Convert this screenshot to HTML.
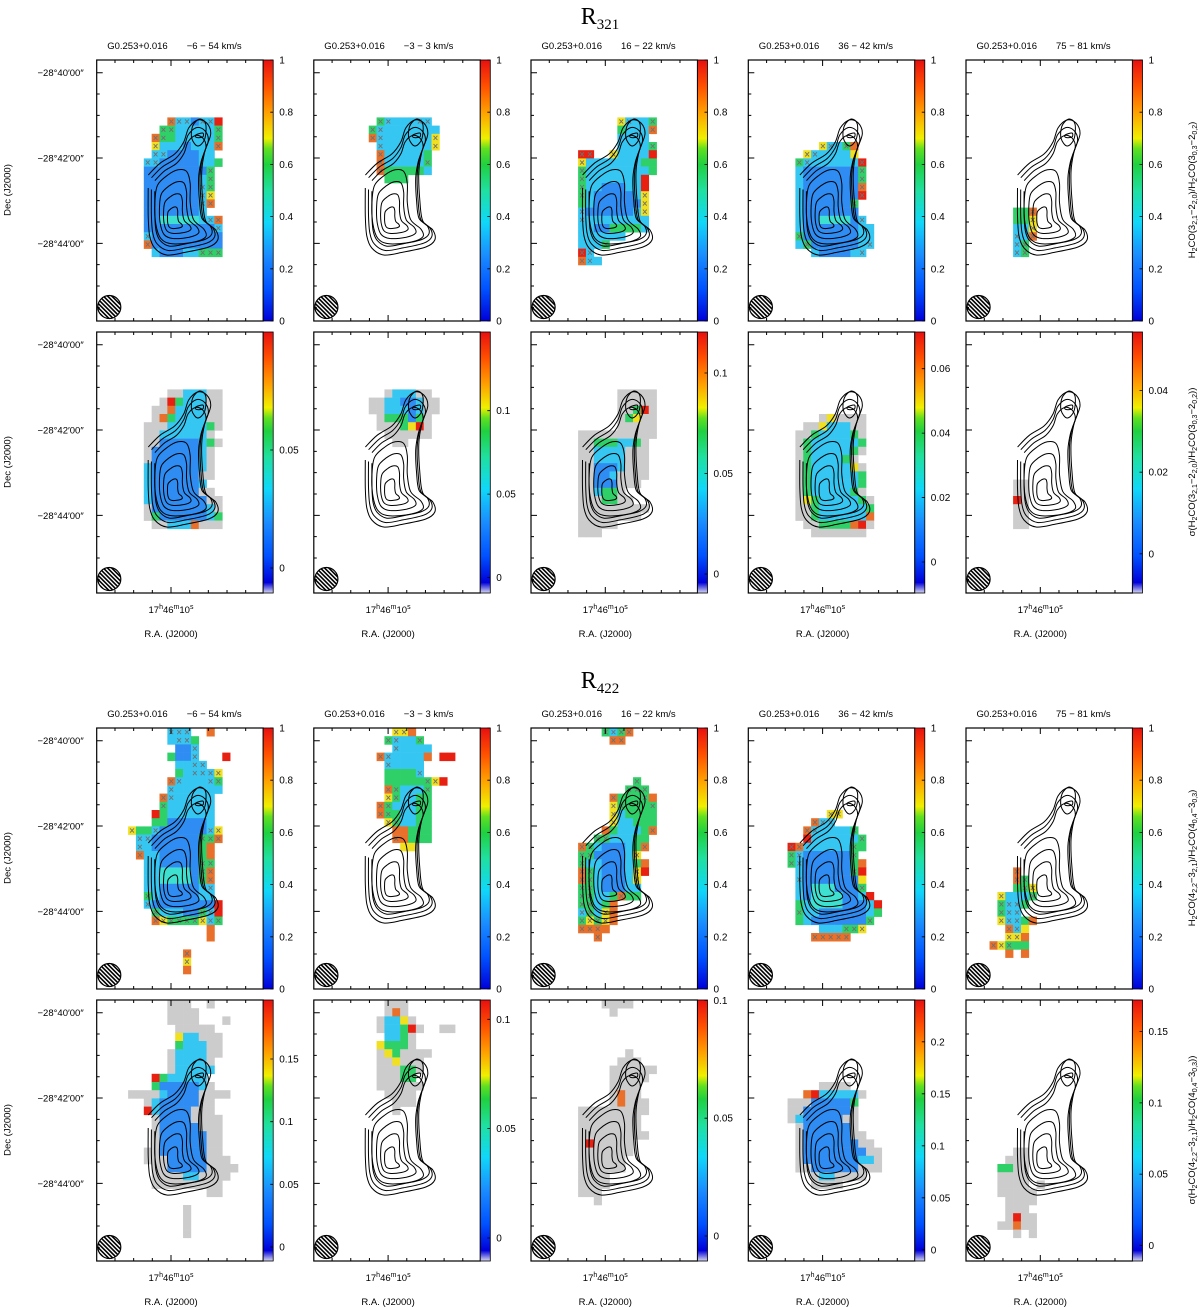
<!DOCTYPE html>
<html><head><meta charset="utf-8">
<style>
html,body{margin:0;padding:0;background:#fff;}
svg{display:block;font-family:"Liberation Sans",sans-serif;}
</style></head>
<body>
<svg id="fig" width="1200" height="1307" viewBox="0 0 1200 1307" xmlns="http://www.w3.org/2000/svg">
<defs>
<linearGradient id="jet" x1="0" y1="1" x2="0" y2="0">
<stop offset="0" stop-color="#0000d8"/><stop offset="0.12" stop-color="#0050ff"/>
<stop offset="0.25" stop-color="#1a8cff"/><stop offset="0.38" stop-color="#10d8f8"/>
<stop offset="0.5" stop-color="#20e0a0"/><stop offset="0.6" stop-color="#20d040"/>
<stop offset="0.66" stop-color="#60e020"/><stop offset="0.7" stop-color="#f0f000"/>
<stop offset="0.8" stop-color="#ffa000"/><stop offset="0.9" stop-color="#ff5000"/>
<stop offset="1" stop-color="#e81010"/></linearGradient>
<linearGradient id="jet2" x1="0" y1="1" x2="0" y2="0">
<stop offset="0" stop-color="#d8d8f0"/><stop offset="0.04" stop-color="#0000d8"/><stop offset="0.14" stop-color="#0050ff"/>
<stop offset="0.27" stop-color="#1a8cff"/><stop offset="0.4" stop-color="#10d8f8"/>
<stop offset="0.52" stop-color="#20e0a0"/><stop offset="0.62" stop-color="#20d040"/>
<stop offset="0.67" stop-color="#60e020"/><stop offset="0.71" stop-color="#f0f000"/>
<stop offset="0.8" stop-color="#ffa000"/><stop offset="0.9" stop-color="#ff5000"/>
<stop offset="1" stop-color="#e81010"/></linearGradient>
<clipPath id="beamclip"><circle cx="0" cy="0" r="11.5"/></clipPath>
</defs>
<text x="600" y="24" text-anchor="middle" font-family="Liberation Serif,serif" font-size="24">R<tspan font-size="15" dy="5">321</tspan></text>
<text x="600" y="688" text-anchor="middle" font-family="Liberation Serif,serif" font-size="24">R<tspan font-size="15" dy="5">422</tspan></text>
</svg>
<script>
// ---- data ----
const velocityLabels = ["\u22126 \u2212 54 km/s","\u22123 \u2212 3 km/s","16 \u2212 22 km/s","36 \u2212 42 km/s","75 \u2212 81 km/s"];
const decLabels = ["\u221228\u00b040\u203200\u2033","\u221228\u00b042\u203200\u2033","\u221228\u00b044\u203200\u2033"];
const ratioTicks = [0,0.2,0.4,0.6,0.8,1];
// sigma colorbar calibrations: [value0, y0, value1, y1]
const sigmaCal = [[0,236,0.05,118],[0,245.5,0.1,78.7],[0,242,0.1,41],[0,230,0.06,36.7],[0,221.8,0.04,58.6],
                  [0,247,0.15,59],[0,238,0.1,19.3],[0,236,0.1,0.4],[0,249.8,0.2,41.8],[0,245.5,0.15,31.6]];
const sigmaTicks = [[0,0.05],[0,0.05,0.1],[0,0.05,0.1],[0,0.02,0.04,0.06],[0,0.02,0.04],
                    [0,0.05,0.1,0.15],[0,0.05,0.1],[0,0.05,0.1],[0,0.05,0.1,0.15,0.2],[0,0.05,0.1,0.15]];
// pixel masks: [i0, j0, rows]; letters = colour class, uppercase = flagged with X
const masks = [
 [6,7,["...OCCbCCr","..GGcccccG",".OGgcccccG",".YcccbcccO",".CCbbbbcc.","CCbbbbbccg","bbbbbbbbG.","bbbbbbbcG.","bbbbbbbCG.","bbbbbbbCY.","bbbbbbbCO.","bbbbbbbc..","bbaaaaacCO","bbbbbbbbbC","Cbbbbbbbbb","Obbbbbbbbb",".cbbbccGGG"]],
 [7,7,[".GCcccCC.","GCccccccc","OCccccccY",".CccccccY",".Occcccg.",".OcccccG.",".Ogggggc.","..ggg...."]],
 [6,7,[".....YCccG",".....gcccO",".....cccc.",".....ccccG","RR..Yccccr","Ycccccccgg","Gccccccccg","Gcccccccr.","Gccbbbccr.","GcbbbbbcY.","gcbbbbbbY.","CbbbbbbCY.","Ccccccccc.","ccbbggggc.","cccccc....","cccG......","RC........","OCc......."]],
 [6,10,["...YCcGo..",".YCccccy..","GCccccccR.","cbbbbbbbG.","cbbbbbbbG.","cbbbbbbbO.","cbbbbbbbR.","cbbbbbbG..","cbbbbbbb..","cbbaaaabC.","cbbbbbbbcc","Gbbbbbbbcc","cGbbbbbbcC","..cbbbbcC."]],
 [6,18,["ggO","ggY","ccY","CcO","CG.","CG."]],
 [6,7,["...hhccchh","..hrgccchh",".hhocccchh",".hogcccchh","hhhcccccgh","hhcccccch.","hhbbbbbcgh","hbbbbbbch.","hbbbbbbch.","cbbbbbbch.","cbbbbbbhh.","cbbbbbbc..","cbbbbbbhh.","cbbbbbbbhh","hbbbbbbbch","hgbbbbbbcg",".hhcccohhh"]],
 [7,7,["..hccchh.","hhccbbchh","hhcccbchh",".hgggbgh.",".hhhgyrh.","..hhhhhh.","...hh...."]],
 [6,7,[".....hhhhh",".....hhhhh",".....hhgrh",".....hgyhh",".....hhhhh","hhhhhhhhhh","hhgggccgh.","hhcccchhh.","hhcccchhh.","hhbbbchhh.","hhbbchhhh.","hhbbbhhh..","hhcggh....","hhhgghh...","hhhhhhhhh.","hhhhhhhh..","hhhhh.....","hhh......."]],
 [6,10,["...hyhhhh.",".hhyccchh.","hhgccccgh.","hgccccccg.","hgcccccgh.","hgccccgh..","hgcccccyh.","hgccccccg.","hgccccccg.","hgcccccgh.","hygcccccgh","hhgccccccg","hhgcccccco",".hhggggorh","..hhhhhhh."]],
 [6,18,["hh","hh","rh","hh","hh","hh"]],
 [4,0,[".....CCC..o..",".....cCCg....","......bbC....",".....gbbC...r","......ccCC...","......gcCCCY.",".....OCcccCG.",".....Ccccccc.","....OCccccc..","....Gcccccc..","...rgcccccc..","...ggbbbbbc..","YggCbbbbbbCY.",".CCbbbbbbGGO.",".Ccbbbbbbgo..",".Occbbbbbgo..","..ccbbbbbGG..","..ccaaaabGO..","..ccaaaabGO..","..ccbbbbbcC..","..Gcbbbbbcc..","..Cbbbbbbbbr.","...GcccbbGCr.","...OYGGGGYCG.","..........o..","..........o..",".............",".......O.....",".......Y.....",".......o....."]],
 [8,0,["..YYo.....",".GCccG....","..Ccccc...","OCcccco.rr",".Ccccc....",".ggggC....",".gggggGYr.",".OGcccG...",".YGccgg...","OGcccgg...","OGgccgg...",".YGccgg...","..ooggg...","..Ooggg...","...yy....."]],
 [6,0,["...GCGO....","....OO.....","..........","..........","..........","..........",".......G..","......GGG.","....OgggGo","....YGgggG","....Ycgggg","....Yccggg","...ogcccgO","..GGcccgg.","OGcbbbcgO.","GGbbbbcY..","Gccbbbcgo.","OGcbbbcYr.","OGcbbbcY..","GGcbbbcc..","GGccgOgg..","GGcgo.....","CGcYo.....","GYGYo.....","OOOo......","..O......."]],
 [5,10,[".....YY.....","...OCC......","..OCccccG...","..rccccccG..","ROccccccGg..","GCbbbbbbG...","GCbbbbbbgo..",".cbbbbbbGr..",".Cbbbbbbby..",".cbaaabbbG..",".cbaaaabbcr.",".gcaaaabbbcr",".Gccbbbbbbcg",".gcbbbbbbbG.","....cccGGY..","...OOOOO...."]],
 [2,17,["....O...","....OG..","....gGY.","..YcccG.","..GCCg..","..GCC...","..YCCgo.","...OCy..","...YYo..",".OYGgg..","...o.o.."]],
 [4,0,[".....hhh..h...",".....hhhh.....",".....hhhh...h.","......hhhhh...","......ycchhh..","......gccchh..",".....hcccchh..",".....hcccch...",".....hccccc...","...rgccccc....","...gbbbbbch...","hhhhcbbbbhhhh.","..hcbbbbbhh...","..rcbbbbhhh...","...hbbbbhhhh..","...hbbbbbhhh..","...hbbbbbbhh..","...hbbbbbbhh..","..hhbbbbbbhh..","..hhhbbbbbhhh.","...hhbbbbbhhhh","...hhhhcchhhh.","...hhhhhhhhh..","..........hh..","..............",".......h......",".......h......",".......h......",".......h......"]],
 [8,0,[".hhh.......",".hoh.......","hccyh......","hccgrh..hh.",".ccgh......","ygggh......","hyghhhh....","hhyhhh.....","hhhggh.....","hhhgg......","hhhhhh.....",".hhhh......","..hhh......","..h........"]],
 [6,0,["...hhhh...","....h.....","..........","..........","..........","..........","......h...",".....hhh..","....hhhhhh","....hhhhh.","....hhhh..","....hohh..","....hohhh.","hhhhhhhhh.","hhhhhhhh..","hhhhhhhh..","hhhhhhhhh.","hrhhhhh...","hhhhhhh...","hhhhhh....","hhhhhh....","hhhh......","hhhh......","hhh.......","..h......."]],
 [5,10,["....hhhh....","..orccccch..","hhhbbbbbg...","hhbbbbbbh...","hcbbbbbhh...",".hbbbbbbh...",".hbbbbbbhh..",".hbbbbbbbhh.",".hbbbbbbbbhh",".hbbbbbbbcch",".hhbbbbbbhhh","...hcchhhh..","...hhhh....."]],
 [2,18,["....hh..","...hhh..","..gghh..","..hhhh..","..hhhh.h","..hhhhh.","...hhhh.","...hhh..","...hrhh.","..hhohh.","....h.h."]]
];
// ---- layout ----
const NS="http://www.w3.org/2000/svg";
const svg=document.getElementById('fig');
const colX=[96.7,313.8,531,748.3,966];
const rowY=[60,332,728,1000];
const W=166.5,H=261,CW=7.85,CH=8.2;
const palette={b:"#2e8cf2",c:"#36c6f2",a:"#3ee0d0",g:"#30d068",y:"#f0e020",o:"#e8702a",r:"#e82012",h:"#cccccc"};
function el(tag,attrs,parent){const e=document.createElementNS(NS,tag);for(const k in attrs)e.setAttribute(k,attrs[k]);(parent||svg).appendChild(e);return e;}
const outer=[[51.6,115],[63.3,103.3],[78,94],[87,82],[92,68],[101,60],[110,63],[114,74],[108,92],[105,112],[106,140],[109,161],[119,170],[121,180],[112,187],[90,192],[70,195],[58,188],[53,176],[51.5,156],[51.5,128]];
const body=[[58,120],[70,108],[82,102],[92,104],[96,118],[96,140],[100,160],[112,171],[114,180],[100,186],[75,188],[62,182],[56,165],[55,140]];
const peak=[[96,66],[103,59],[109,64],[108,79],[101,86],[95,78]];
const peakIn=[[99,75],[106,73],[106,77],[100,77.5]];
function smooth(pts,s,cx,cy,closed){
 const p=pts.map(q=>[cx+(q[0]-cx)*s,cy+(q[1]-cy)*s]);const n=p.length;
 const get=k=>closed?p[(k+n)%n]:p[Math.max(0,Math.min(n-1,k))];
 let d="M"+p[0][0].toFixed(1)+","+p[0][1].toFixed(1);
 const last=closed?n:n-1;
 for(let k=0;k<last;k++){const p0=get(k-1),p1=get(k),p2=get(k+1),p3=get(k+2);
  const c1=[p1[0]+(p2[0]-p0[0])/6,p1[1]+(p2[1]-p0[1])/6],c2=[p2[0]-(p3[0]-p1[0])/6,p2[1]-(p3[1]-p1[1])/6];
  d+=`C${c1[0].toFixed(1)},${c1[1].toFixed(1)} ${c2[0].toFixed(1)},${c2[1].toFixed(1)} ${p2[0].toFixed(1)},${p2[1].toFixed(1)}`;}
 return d+(closed?"Z":"");}
function fmt(v){return String(+v.toFixed(3));}

for(let r=0;r<4;r++){for(let c=0;c<5;c++){
 const px=colX[c],py=rowY[r],idx=r*5+c,sigma=(r%2===1);
 const g=el('g',{transform:`translate(${px},${py})`});
 
 
 const m=masks[idx];
 m[2].forEach((row,dj)=>{for(let di=0;di<row.length;di++){const ch=row[di];if(ch==='.')continue;
  const col=palette[ch.toLowerCase()];const x=(m[0]+di)*CW,y=(m[1]+dj)*CH;
  const rc=el('rect',{x:x.toFixed(2),y:y.toFixed(2),width:(CW+0.3).toFixed(2),height:(CH+0.3).toFixed(2),fill:col},g);
  
  
  if(ch!==ch.toLowerCase()){
   const xm=el('path',{d:`M${x+2},${y+2}L${x+CW-2},${y+CH-2}M${x+CW-2},${y+2}L${x+2},${y+CH-2}`,stroke:"#707070","stroke-width":0.9,fill:"none"},g);
   
   
  }}});
 const cg=el('g',{fill:"none",stroke:"#000","stroke-width":1},g);
 
 
 el('path',{d:smooth(outer,1,86,145,false)},cg);
 el('path',{d:smooth(outer,0.91,87,145,false)},cg);
 el('path',{d:smooth(outer,0.82,88,146,false)},cg);
 el('path',{d:smooth(body,0.86,78,158,true)},cg);
 el('path',{d:smooth(body,0.66,78,160,true)},cg);
 el('path',{d:smooth(body,0.46,77,161,true)},cg);
 el('path',{d:smooth(body,0.25,76,162,true)},cg);
 el('path',{d:smooth(peak,1,102,72,true)},cg);
 el('path',{d:smooth(peakIn,1,102,75,true)},cg);
 const bg=el('g',{transform:"translate(12.6,247)"},g);
 
 
 const hg=el('g',{"clip-path":"url(#beamclip)",stroke:"#000","stroke-width":1.6},bg);
 for(let k=-16;k<=16;k+=4.2){el('line',{x1:k-14,y1:-14,x2:k+14,y2:14},hg);}
 el('circle',{cx:0,cy:0,r:11.5,fill:"none",stroke:"#000","stroke-width":1.2},bg);
 const fr=el('rect',{x:0,y:0,width:W,height:H,fill:"none",stroke:"#000","stroke-width":1.2},g);
 
 
 let tk="";
 for(let k=-3;k<=5;k++){const x=74.3+k*18.67;if(x<2||x>W-2)continue;const L=k===0?6:3;tk+=`M${x},0v${L}M${x},${H}v${-L}`;}
 for(let k=0;k<12;k++){const y=12.7+k*21.33;if(y>H-2)continue;const L=k%4===0?6:3;tk+=`M0,${y}h${L}`;}
 el('path',{d:tk,stroke:"#000","stroke-width":1},g);
 const cb=el('rect',{x:W,y:0,width:10,height:H,fill:sigma?"url(#jet2)":"url(#jet)",stroke:"#000","stroke-width":0.8},g);
 
 
 let vals,ymap;
 if(!sigma){vals=ratioTicks;ymap=v=>H-v*H;}
 else{const si=(r===1?0:5)+c;const k=sigmaCal[si];vals=sigmaTicks[si];ymap=v=>k[1]+(v-k[0])*(k[3]-k[1])/(k[2]-k[0]);}
 let cbt="";
 vals.forEach(v=>{const y=ymap(v);cbt+=`M${W+10},${y}h-3`;
  const t=el('text',{x:W+16,y:(y+3.5).toFixed(1),"font-size":10},g);t.textContent=fmt(v);
  
  });
 el('path',{d:cbt,stroke:"#000","stroke-width":0.8},g);
 if(!sigma){
  const t1=el('text',{x:10.5,y:-11,"font-size":9.5},g);t1.textContent="G0.253+0.016";
  
  
  const t2=el('text',{x:90,y:-11,"font-size":9.5,"xml:space":"preserve"},g);t2.textContent=velocityLabels[c];
  
  
 } else {
  const t3=el('text',{x:74.3,y:H+20,"font-size":9.5,"text-anchor":"middle"},g);
  t3.innerHTML='17<tspan font-size="7" dy="-4">h</tspan><tspan dy="4">46</tspan><tspan font-size="7" dy="-4">m</tspan><tspan dy="4">10</tspan><tspan font-size="7" dy="-4">s</tspan>';
  
  
  const t4=el('text',{x:74.3,y:H+44,"font-size":9.5,"text-anchor":"middle"},g);t4.textContent="R.A. (J2000)";
  
  
 }
 if(c===0){
  decLabels.forEach((s,k)=>{const t=el('text',{x:-13,y:(12.7+k*85.33+3.5).toFixed(1),"font-size":9.5,"text-anchor":"end"},g);t.textContent=s;
   
   });
  const d=el('text',{transform:`translate(-86,130) rotate(-90)`,"font-size":9.5,"text-anchor":"middle"},g);d.textContent="Dec (J2000)";
  
  
 }
}}
const sideTitles=[
 [190,'H<tspan font-size="7" dy="2">2</tspan><tspan dy="-2">CO(3</tspan><tspan font-size="7" dy="2">2,1</tspan><tspan dy="-2">\u22122</tspan><tspan font-size="7" dy="2">2,0</tspan><tspan dy="-2">)/H</tspan><tspan font-size="7" dy="2">2</tspan><tspan dy="-2">CO(3</tspan><tspan font-size="7" dy="2">0,3</tspan><tspan dy="-2">\u22122</tspan><tspan font-size="7" dy="2">0,2</tspan><tspan dy="-2">)</tspan>'],
 [462,'\u03c3(H<tspan font-size="7" dy="2">2</tspan><tspan dy="-2">CO(3</tspan><tspan font-size="7" dy="2">2,1</tspan><tspan dy="-2">\u22122</tspan><tspan font-size="7" dy="2">2,0</tspan><tspan dy="-2">)/H</tspan><tspan font-size="7" dy="2">2</tspan><tspan dy="-2">CO(3</tspan><tspan font-size="7" dy="2">0,3</tspan><tspan dy="-2">\u22122</tspan><tspan font-size="7" dy="2">0,2</tspan><tspan dy="-2">))</tspan>'],
 [858,'H<tspan font-size="7" dy="2">2</tspan><tspan dy="-2">CO(4</tspan><tspan font-size="7" dy="2">2,2</tspan><tspan dy="-2">\u22123</tspan><tspan font-size="7" dy="2">2,1</tspan><tspan dy="-2">)/H</tspan><tspan font-size="7" dy="2">2</tspan><tspan dy="-2">CO(4</tspan><tspan font-size="7" dy="2">0,4</tspan><tspan dy="-2">\u22123</tspan><tspan font-size="7" dy="2">0,3</tspan><tspan dy="-2">)</tspan>'],
 [1130,'\u03c3(H<tspan font-size="7" dy="2">2</tspan><tspan dy="-2">CO(4</tspan><tspan font-size="7" dy="2">2,2</tspan><tspan dy="-2">\u22123</tspan><tspan font-size="7" dy="2">2,1</tspan><tspan dy="-2">)/H</tspan><tspan font-size="7" dy="2">2</tspan><tspan dy="-2">CO(4</tspan><tspan font-size="7" dy="2">0,4</tspan><tspan dy="-2">\u22123</tspan><tspan font-size="7" dy="2">0,3</tspan><tspan dy="-2">))</tspan>']
];
sideTitles.forEach((s,k)=>{const t=el('text',{transform:`translate(1195,${s[0]}) rotate(-90)`,"font-size":9.5,"text-anchor":"middle"});
 t.innerHTML=s[1];
 
 });
</script>
</body></html>
